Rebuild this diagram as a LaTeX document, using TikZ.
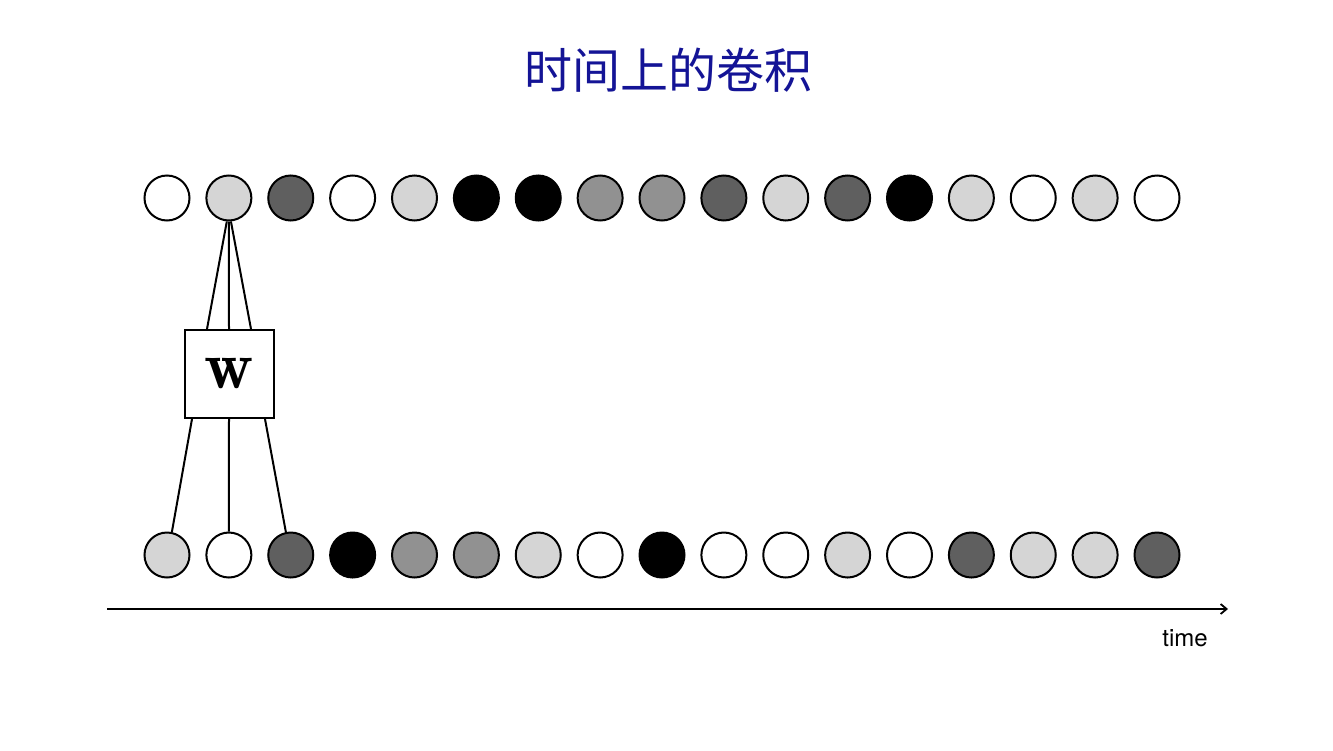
\documentclass[tikz,border=0pt]{standalone}
\usepackage{fontspec}
\newfontfamily\cjk{Noto Sans CJK SC}
\newfontfamily\heros{TeX Gyre Heros}
\usetikzlibrary{arrows.meta}
\definecolor{titleblue}{RGB}{20,20,150}
\definecolor{gA}{RGB}{255,255,255}
\definecolor{gB}{RGB}{213,213,213}
\definecolor{gC}{RGB}{145,145,145}
\definecolor{gD}{RGB}{95,95,95}
\definecolor{gE}{RGB}{0,0,0}
\tikzset{
  cell/.style={circle, draw=black, line width=2pt, minimum size=45pt, inner sep=0pt},
  wire/.style={line width=2pt},
  wbox/.style={draw=black, line width=2pt, minimum width=89pt, minimum height=88pt, inner sep=0pt, fill=white},
}
\begin{document}
\begin{tikzpicture}[x=1pt,y=-1pt]
\useasboundingbox[fill=white] (0,0) rectangle (1333,750);
\node (title) at (668,70) {\cjk\fontsize{48}{54}\selectfont\color{titleblue}时间上的卷积};
% top row
\foreach \c [count=\i] in {gA,gB,gD,gA,gB,gE,gE,gC,gC,gD,gB,gD,gE,gB,gA,gB,gA} {
  \node[cell, fill=\c] (t\i) at ({167+61.875*(\i-1)},198) {};
}
% bottom row
\foreach \c [count=\i] in {gB,gA,gD,gE,gC,gC,gB,gA,gE,gA,gA,gB,gA,gD,gB,gB,gD} {
  \node[cell, fill=\c] (b\i) at ({167+61.875*(\i-1)},555) {};
}
\node[wbox] (w) at (229,374) {\fontsize{68}{74}\selectfont$\mathbf{w}$};
% wires
\draw[wire] (t2.-95) -- ([xshift=-22pt]w.north);
\draw[wire] (t2.south) -- (w.north);
\draw[wire] (t2.-85) -- ([xshift=22pt]w.north);
\draw[wire] ([xshift=-37pt]w.south) -- (b1.78);
\draw[wire] (w.south) -- (b2.north);
\draw[wire] ([xshift=36pt]w.south) -- (b3.102);
% time axis
\coordinate (a0) at (107,609);
\coordinate (a1) at (1228,609);
\draw[line width=1.8pt, -{Straight Barb[length=6pt,width=10pt]}] (a0) -- (a1);
\node (time) at (1185,638) {\heros\fontsize{24}{28}\selectfont time};
\end{tikzpicture}
\end{document}
